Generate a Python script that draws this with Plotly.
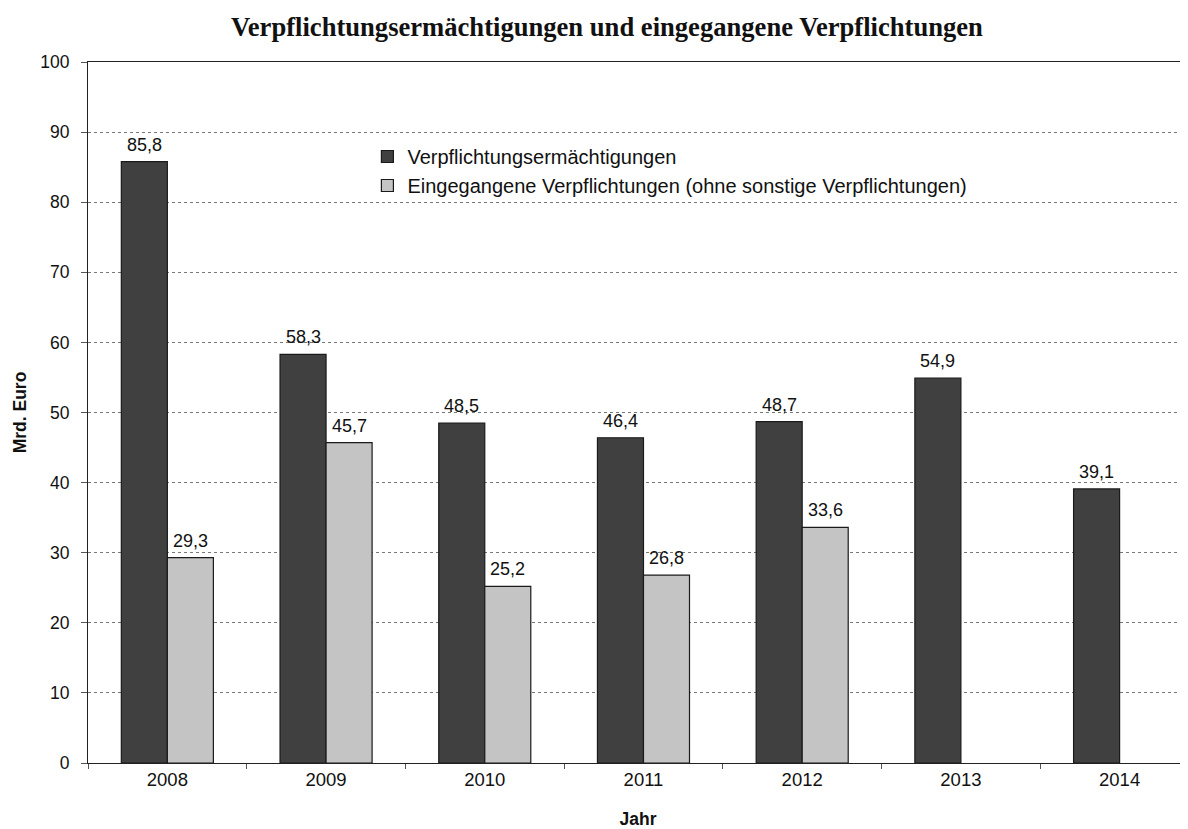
import plotly.graph_objects as go

years = ["2008", "2009", "2010", "2011", "2012", "2013", "2014"]
verpflichtungsermaechtigungen = [85.8, 58.3, 48.5, 46.4, 48.7, 54.9, 39.1]
eingegangene = [29.3, 45.7, 25.2, 26.8, 33.6, None, None]
series_names = ["Verpflichtungsermächtigungen",
                "Eingegangene Verpflichtungen (ohne sonstige Verpflichtungen)"]

def fmt(v):
    return f"{v:.1f}".replace(".", ",")

FONT = "Liberation Sans, Arial, sans-serif"

fig = go.Figure()
fig.add_trace(go.Bar(
    x=years, y=verpflichtungsermaechtigungen, name=series_names[0],
    marker=dict(color="#404040", line=dict(color="#1a1a1a", width=1.2)),
))
fig.add_trace(go.Bar(
    x=years, y=eingegangene, name=series_names[1],
    marker=dict(color="#c4c4c4", line=dict(color="#1a1a1a", width=1.2)),
))

# value labels above bars (category index on the x axis, value on the y axis)
annotations = []
for series, shift in ((verpflichtungsermaechtigungen, -23), (eingegangene, 23)):
    for i, v in enumerate(series):
        if v is None:
            continue
        annotations.append(dict(
            x=i, y=v, xref="x", yref="y", text=fmt(v), showarrow=False,
            xanchor="center", yanchor="bottom", xshift=shift, yshift=5,
            font=dict(family=FONT, size=18, color="#111"),
        ))

fig.update_layout(
    width=1180, height=821,
    paper_bgcolor="white", plot_bgcolor="white",
    margin=dict(l=80, r=0, t=54, b=66, autoexpand=False),
    barmode="group", bargap=0.42, bargroupgap=0,
    title=dict(text="<b>Verpflichtungsermächtigungen und eingegangene Verpflichtungen</b>",
               x=0.5076, xanchor="center", y=0.977, yanchor="middle",
               font=dict(family="Liberation Serif, Times New Roman, serif", size=26.6, color="#111")),
    font=dict(family=FONT, size=17.5, color="#111"),
    legend=dict(x=0.254, y=0.893, xanchor="left", yanchor="top",
                bgcolor="rgba(0,0,0,0)", font=dict(size=20, color="#111"),
                itemwidth=30, tracegroupgap=0),
    showlegend=True,
    annotations=annotations,
)
fig.update_xaxes(
    type="category", range=[-0.5, 6.431],
    showline=True, linecolor="#222", linewidth=1.2, mirror=True,
    ticks="outside", tickson="boundaries", ticklen=5, tickcolor="#555",
    title=dict(text="<b>Jahr</b>", font=dict(size=17.5), standoff=24),
    tickfont=dict(size=18.5), automargin=False,
)
fig.update_yaxes(
    range=[0, 100], dtick=10,
    showline=True, linecolor="#222", linewidth=1.2,
    ticks="outside", ticklen=6, tickcolor="#555", ticklabelstandoff=8,
    showgrid=True, gridcolor="#777", griddash="dot", gridwidth=1,
    title=dict(text="<b>Mrd. Euro</b>", font=dict(size=17.5), standoff=9),
    tickfont=dict(size=17.5), automargin=False,
)
fig.write_html("out.html")
